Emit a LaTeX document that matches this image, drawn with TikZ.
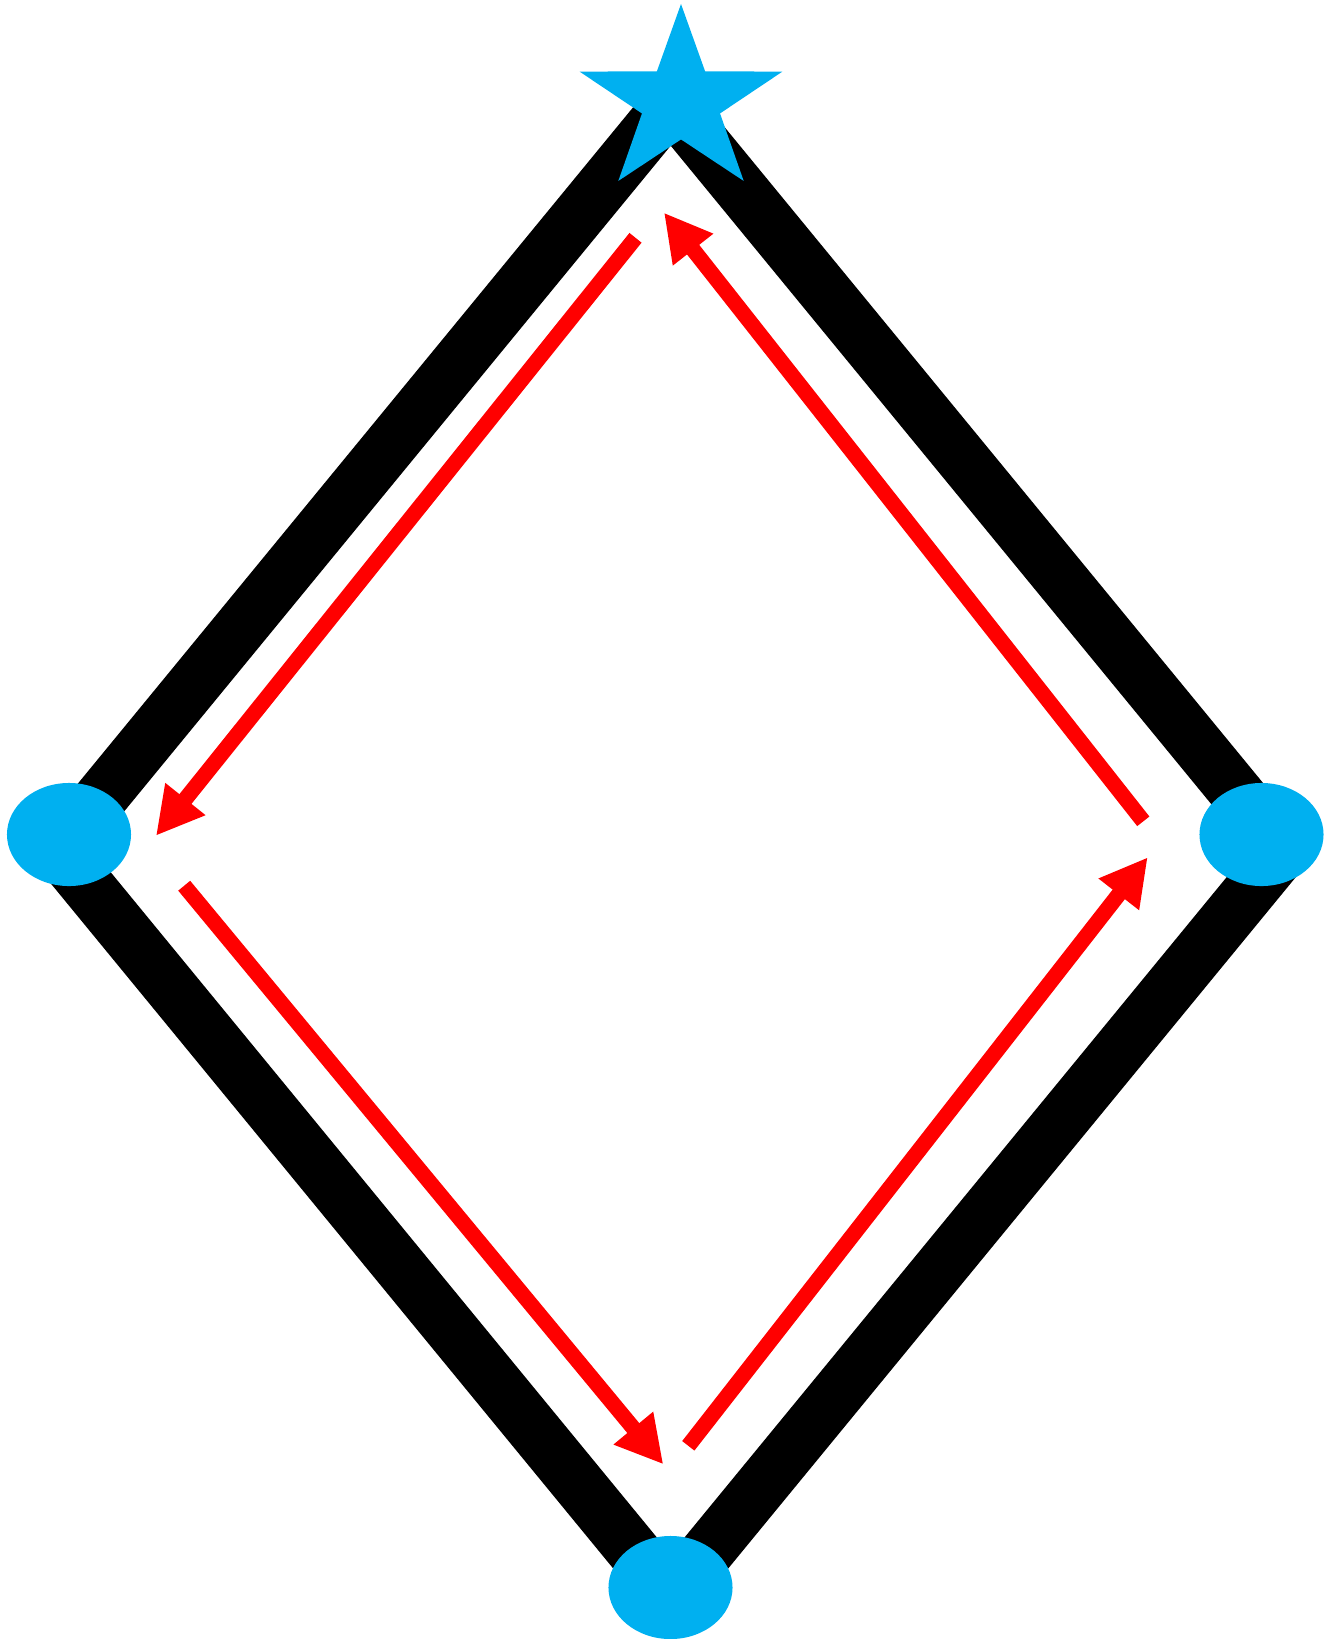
\documentclass[tikz,border=0pt]{standalone}
\usepackage{tikz}
\usetikzlibrary{arrows.meta,shapes.geometric}
\usepackage{xcolor}
\definecolor{vertc}{HTML}{00B0F0}
\definecolor{flowc}{HTML}{FF0000}

\begin{document}
\begin{tikzpicture}[x=0.01cm, y=-0.01cm,
  blob/.style={ellipse, fill=vertc, inner sep=0pt, outer sep=0pt,
    minimum width=1.24cm, minimum height=1.03cm},
  edge/.style={black, line width=0.534cm, line join=miter},
  flow/.style={flowc, line width=0.155cm,
    -{Triangle[length=0.47cm, width=0.48cm]}}]
  \useasboundingbox (0,0) rectangle (1334,1639);
  % corners of the frame
  \coordinate (ct) at (670.7,103.6);
  \coordinate (cl) at (57.9,850);
  \coordinate (cb) at (670.7,1596.4);
  \coordinate (cr) at (1283.5,850);
  \draw[edge] (ct) -- (cl) -- (cb) -- (cr) -- cycle;
  \node[star, star points=5, star point ratio=2.6, fill=vertc, inner sep=0pt,
    outer sep=0pt, minimum size=2.132cm, yscale=0.917] (src) at (681,101.8) {};
  \node[blob] (west) at (69,834.5) {};
  \node[blob] (east) at (1261.5,834.5) {};
  \node[blob] (south) at (670.5,1587.5) {};
  % flow arrows
  \coordinate (f1a) at (635.5,237.8);
  \coordinate (f1b) at (156,835.7);
  \coordinate (f2a) at (1143.3,821.3);
  \coordinate (f2b) at (664,212.7);
  \coordinate (f3a) at (184.2,885.7);
  \coordinate (f3b) at (663.3,1464.3);
  \coordinate (f4a) at (688.3,1445.8);
  \coordinate (f4b) at (1147.7,857.3);
  \draw[flow] (f1a) -- (f1b);
  \draw[flow] (f2a) -- (f2b);
  \draw[flow] (f3a) -- (f3b);
  \draw[flow] (f4a) -- (f4b);
\end{tikzpicture}
\end{document}
